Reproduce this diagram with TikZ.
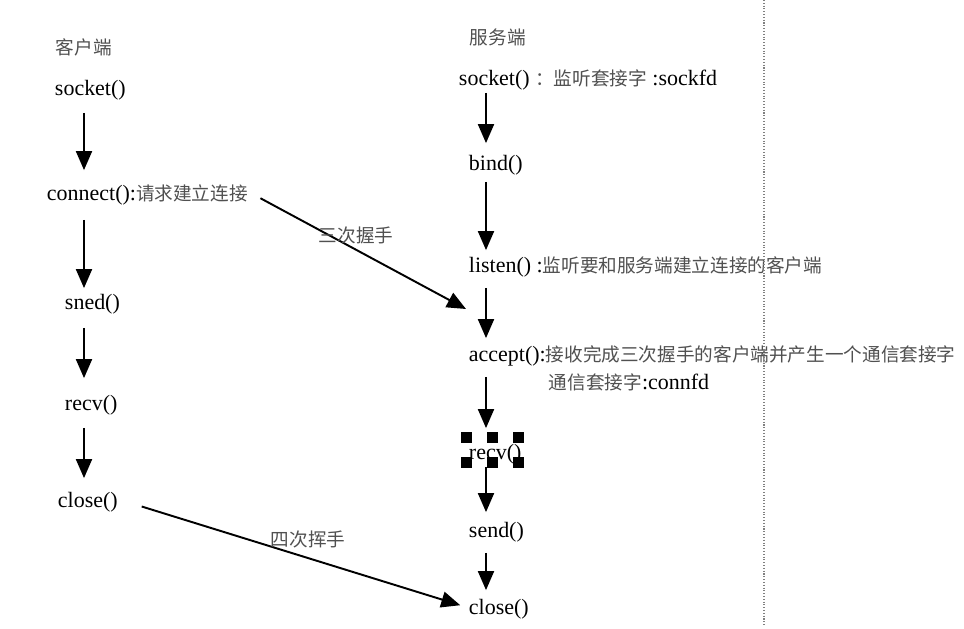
\documentclass[tikz,border=0pt]{standalone}
\usepackage{fontspec}
\setmainfont{Liberation Serif}
\newfontfamily\cjk{Noto Sans CJK SC}
\usetikzlibrary{arrows.meta}
\definecolor{zhgray}{HTML}{505050}
\newcommand{\zh}[1]{{\cjk\fontsize{10.6pt}{13pt}\selectfont\color{zhgray}#1}}

\begin{document}
\begin{tikzpicture}[x=0.02cm, y=-0.02cm,
		txt/.style={anchor=west, inner sep=1.5pt, text height=9pt, text depth=0pt, font=\fontsize{12.5pt}{14pt}\selectfont},
		flow/.style={line width=1.1pt, -{Triangle[length=0.38cm, width=0.32cm]}}]
		\useasboundingbox (0,0) rectangle (964,629);
		\coordinate (colC) at (84,0);
		\coordinate (colS) at (486,0);
		\node[txt] (ctitle) at (53,47) {\zh{客户端}};
		\node[txt] (csock) at (52,88) {socket()};
		\node[txt] (cconn) at (44,193) {connect():\zh{请求建立连接}};
		\node[txt] (csend) at (62,302) {sned()};
		\node[txt] (crecv) at (62,403) {recv()};
		\node[txt] (cclose) at (55,500) {close()};
		\node[txt] (stitle) at (467,37) {\zh{服务端}};
		\node[txt] (ssock) at (456,78) {socket() \zh{：}\zh{监听套接字} :sockfd};
		\node[txt] (sbind) at (466,163) {bind()};
		\node[txt] (slisten) at (466,265) {listen() :\zh{监听要和服务端建立连接的客户端}};
		\node[txt] (saccept) at (466,354) {accept():\zh{接收完成三次握手的客户端并产生一个通信套接字}};
		\node[txt] (sconnfd) at (546,382) {\zh{通信套接字}:connfd};
		\node[txt] (srecv) at (466,452) {recv()};
		\node[txt] (ssend) at (466,530) {send()};
		\node[txt] (sclose) at (466,607) {close()};
		\foreach \a/\b/\s/\e in {csock/cconn/14/12, cconn/csend/16/3, csend/crecv/15/14, crecv/cclose/14/11}
			\draw[flow, shorten <=\s*0.2mm, shorten >=\e*0.2mm] (\a.south -| colC) -- (\b.north -| colC);
		\foreach \a/\b/\s/\e in {ssock/sbind/4/9, sbind/slisten/8/4, slisten/saccept/12/5, saccept/srecv/12/13, srecv/ssend/4/7, ssend/sclose/12/6}
			\draw[flow, shorten <=\s*0.2mm, shorten >=\e*0.2mm] (\a.south -| colS) -- (\b.north -| colS);
		\coordinate (synTip) at (466,309);
		\draw[flow, shorten <=11*0.2mm] (cconn.east) -- (synTip);
		\draw[flow, shorten <=22*0.2mm, shorten >=6*0.2mm] (cclose.east) -- (sclose.west);
		\node[inner sep=0pt] (lsyn) at (356,235) {\zh{三次握手}};
		\node[inner sep=0pt] (lfin) at (308,539) {\zh{四次挥手}};
		\foreach \hx in {466,492,518}
			\foreach \hy in {437,462}
				\fill (\hx-5.5,\hy-5.5) rectangle ++(11,11);
		\draw[gray, densely dotted, line width=0.6pt] (764,0) -- (764,625);
	\end{tikzpicture}
\end{document}
